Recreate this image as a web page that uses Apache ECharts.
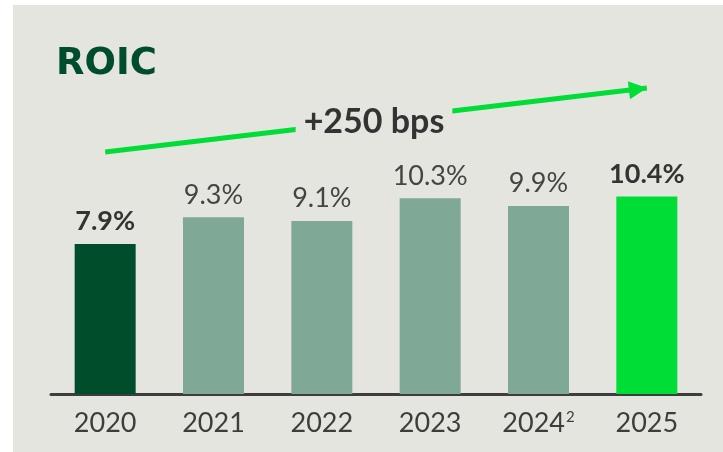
<!DOCTYPE html>
<html>
<head>
<meta charset="utf-8">
<script src="https://cdn.jsdelivr.net/npm/echarts@6/dist/echarts.min.js"></script>
<style>
  html, body { margin: 0; padding: 0; background: #fff; }
  #chart { position: absolute; left: 13px; top: 5px; width: 710px; height: 447px; background: #e5e5df; }
</style>
</head>
<body>
<div id="chart"></div>
<script>
// data
var years = ['2020', '2021', '2022', '2023', '2024', '2025']
var roic = [7.9, 9.3, 9.1, 10.3, 9.9, 10.4]
var footnotes = { '2024': '2' }
var boldYears = ['2020', '2025']
var barColors = ['#004d2c', '#80a896', '#80a896', '#80a896', '#80a896', '#00dd36']

var chart = echarts.init(document.getElementById('chart'))

var bars = roic.map(function(v, i) {
  var bold = boldYears.indexOf(years[i]) >= 0
  return {
    value: v,
    itemStyle: { color: barColors[i] },
    label: { fontWeight: bold ? 'bold' : 'normal', color: bold ? '#333' : '#444' }
  }
})

chart.setOption({
  animation: false,
  title: {
    text: 'ROIC',
    left: 38,
    top: 36,
    textStyle: { fontFamily: 'DejaVu Sans', fontWeight: 'bold', fontSize: 37, color: '#004d2c' }
  },
  grid: { left: 38, right: 22, top: 66, bottom: 58 },
  xAxis: {
    type: 'category',
    data: years,
    axisTick: { show: false },
    axisLine: { lineStyle: { color: '#3d3d3d', width: 3 } },
    axisLabel: {
      interval: 0,
      margin: 16,
      fontFamily: 'Lato',
      fontSize: 27,
      color: '#3d3d3d',
      formatter: function(v) {
        return footnotes[v] ? v + '{sup|' + footnotes[v] + '}' : v
      },
      rich: {
        sup: { fontFamily: 'Lato', fontSize: 15, color: '#3d3d3d', padding: [0, 0, 12, 1] }
      }
    }
  },
  yAxis: { type: 'value', min: 0, max: 17, show: false },
  series: [{
    type: 'bar',
    data: bars,
    barWidth: 61,
    label: {
      show: true,
      position: 'top',
      distance: 9,
      fontFamily: 'Lato',
      fontSize: 27,
      formatter: '{c}%'
    },
    markLine: {
      silent: true,
      symbol: ['none', 'triangle'],
      symbolSize: [18, 18],
      symbolOffset: [[0, 0], [0, 9]],
      label: { show: false },
      lineStyle: { color: '#00dd36', width: 5, type: 'solid' },
      data: [[{ coord: ['2020', 12.74] }, { coord: ['2025', 16.1] }]]
    }
  }],
  graphic: [{
    type: 'text',
    x: 361,
    y: 117,
    z: 100,
    style: {
      text: '+250 bps',
      fontFamily: 'Lato',
      fontWeight: 'bold',
      fontSize: 34,
      fill: '#333',
      align: 'center',
      verticalAlign: 'middle',
      backgroundColor: '#e5e5df',
      padding: [4, 8]
    }
  }]
})
</script>
</body>
</html>
